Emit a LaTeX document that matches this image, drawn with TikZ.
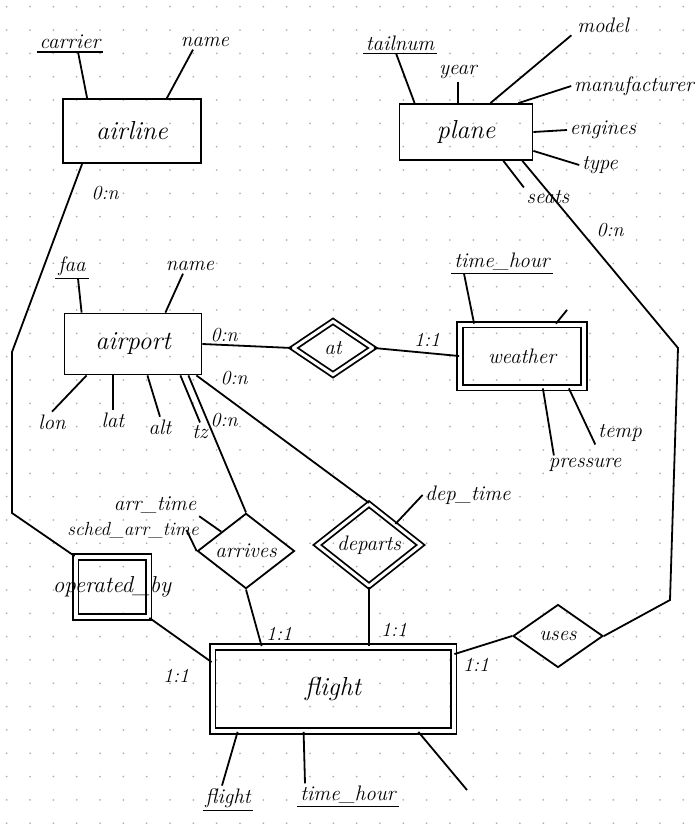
\documentclass[tikz,border=0pt]{standalone}
\usepackage{fontspec}
\usetikzlibrary{shapes.geometric}
\begin{document}
\begin{tikzpicture}[x=1pt, y=-1pt, line width=1.8pt,
  hand/.style={font=\fontsize{21}{25}\selectfont\itshape},
  big/.style={font=\fontsize{26}{30}\selectfont\itshape},
  entity/.style={draw, rectangle, big, inner sep=0pt},
  weak/.style={entity, double, double distance=4pt},
  rel/.style={draw, diamond, hand, inner sep=0pt},
  weakrel/.style={rel, double, double distance=3pt},
  attr/.style={hand, inner sep=2pt},
  key/.style={attr, append after command={(\tikzlastnode.south west) edge[line width=1.4pt] (\tikzlastnode.south east)}},
  card/.style={font=\fontsize{20}{22}\selectfont\itshape, inner sep=0pt}]
\useasboundingbox (0,0) rectangle (699,828);
% dotted paper
\foreach \i in {0,...,29}
  \foreach \j in {0,...,35}
    \fill[black!30] (6.7+23.33*\i, 6.7+23.33*\j) circle (1);

% entities
\node[entity, minimum width=138, minimum height=64] (airline) at (132,131) {airline};
\node[entity, minimum width=133, minimum height=56] (plane) at (466,132) {plane};
\node[entity, minimum width=137, minimum height=61] (airport) at (133,344) {airport};
\node[weak, hand, minimum width=124, minimum height=63] (weather) at (522,356) {weather};
\node[weak, minimum width=241, minimum height=84] (flight) at (333,689) {flight};

% relationships
\node[weak, minimum width=73, minimum height=60, label={[font=\fontsize{23}{26}\selectfont\itshape]center:operated\_by}] (opby) at (112,587) {};
\node[weakrel, minimum width=80, minimum height=54] (at) at (333,348) {at};
\node[weakrel, minimum width=104, minimum height=70] (dep) at (369,545) {departs};
\node[rel, minimum width=97, minimum height=73] (arr) at (246,551) {arrives};
\node[rel, minimum width=90, minimum height=63] (uses) at (558,636) {uses};

% attributes
\node[key] (carrier) at (70,42) {carrier};
\node[attr] (aname) at (205,42) {name};
\node[key] (tailnum) at (400,43) {tailnum};
\node[attr] (year) at (458,72) {year};
\node[attr] (model) at (603,25) {model};
\node[attr] (manuf) at (634,86) {manufacturer};
\node[attr] (engines) at (603,130) {engines};
\node[attr] (type) at (600,165) {type};
\node[attr] (seats) at (548,197) {seats};
\node[key] (faa) at (72,266) {faa};
\node[attr] (pname) at (190,266) {name};
\node[attr] (lon) at (52,422) {lon};
\node[attr] (lat) at (113,420) {lat};
\node[attr] (alt) at (160,427) {alt};
\node[attr] (tz) at (200,432) {tz};
\node[key] (wtime) at (502,262) {time\_hour};
\node[attr] (temp) at (620,433) {temp};
\node[attr] (pressure) at (585,465) {pressure};
\node[attr] (arrtime) at (155,505) {arr\_time};
\node[attr, font=\fontsize{19}{22}\selectfont\itshape] (schedarr) at (133,530) {sched\_arr\_time};
\node[attr] (deptime) at (468,495) {dep\_time};
\node[key] (fnum) at (228,798) {flight};
\node[key] (ftime) at (348,795) {time\_hour};

% bends and loose ends
\coordinate (a1) at (12,352);
\coordinate (a2) at (12,513);
\coordinate (p1) at (678,348);
\coordinate (p2) at (670,600);
\coordinate (ws) at (567,310);
\coordinate (fs) at (467,790);

% attribute lines
\draw ([xshift=8]carrier.south) -- ([xshift=25]airline.north west);
\draw ([xshift=-12]aname.south) -- ([xshift=-35]airline.north east);
\draw ([xshift=-4]tailnum.south) -- ([xshift=16]plane.north west);
\draw (year.south) -- (year.south |- plane.north);
\draw ([xshift=-3]model.south west) -- ([xshift=-43]plane.north east);
\draw (manuf.west) -- ([xshift=-15]plane.north east);
\draw (engines.west) -- (plane.east);
\draw (type.west) -- ([yshift=10]plane.south east);
\draw ([xshift=-30]plane.south east) -- (seats.north west);
\draw ([xshift=6]faa.south) -- ([xshift=18]airport.north west);
\draw ([xshift=-7]pname.south) -- ([xshift=-37]airport.north east);
\draw ([xshift=23]airport.south west) -- (lon.north);
\draw (lat.north) -- (lat.north |- airport.south);
\draw ([xshift=-55]airport.south east) -- (alt.north);
\draw ([xshift=-22]airport.south east) -- (tz.north);
\draw ([xshift=-38]wtime.south) -- ([xshift=15]weather.north west);
\draw ([xshift=-29]weather.north east) -- (ws);
\draw ([xshift=-16]weather.south east) -- (temp.south west);
\draw ([xshift=-42]weather.south east) -- ([xshift=8]pressure.north west);
\draw (arrtime.south east) -- (arr.north west);
\draw ([xshift=-15]schedarr.east) -- (arr.west);
\draw (deptime.west) -- (dep.north east);
\draw ([xshift=-6]fnum.north) -- ([xshift=26]flight.south west);
\draw ([xshift=-43]ftime.north) -- ([xshift=92]flight.south west);
\draw ([xshift=-36]flight.south east) -- (fs);

% relationship lines
\draw ([xshift=20]airline.south west) -- (a1) -- (a2) -- (opby.north west);
\draw (opby.south east) -- ([yshift=-16]flight.north west);
\draw ([xshift=-11]plane.south east) -- (p1) -- (p2) -- (uses.east);
\draw (uses.west) -- ([yshift=-8]flight.north east);
\draw (airport.east) -- (at.west);
\draw (at.east) -- (weather.west);
\draw ([xshift=-14]airport.south east) -- (arr.north);
\draw ([xshift=-6]airport.south east) -- (dep.north);
\draw (arr.south) -- ([xshift=50]flight.north west);
\draw (dep.south) -- (dep.south |- flight.north);

% cardinalities
\node[card] (c1) at (105,193) {0:n};
\node[card] (c2) at (610,230) {0:n};
\node[card] (c3) at (224,335) {0:n};
\node[card] (c4) at (427,340) {1:1};
\node[card] (c5) at (234,378) {0:n};
\node[card] (c6) at (224,420) {0:n};
\node[card] (c7) at (176,676) {1:1};
\node[card] (c8) at (279,634) {1:1};
\node[card] (c9) at (394,630) {1:1};
\node[card] (c10) at (476,665) {1:1};
\end{tikzpicture}
\end{document}
